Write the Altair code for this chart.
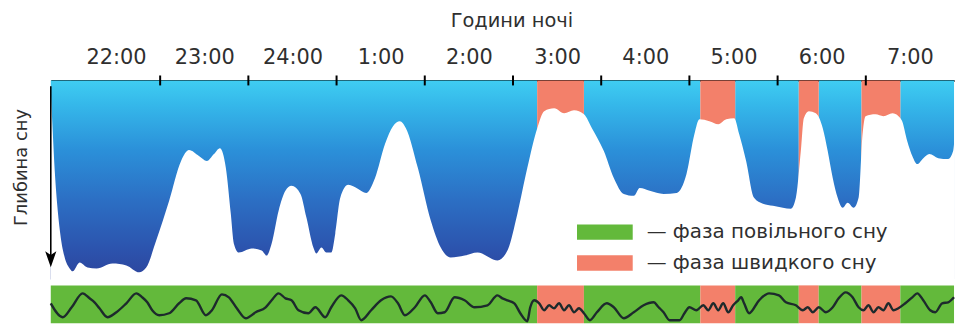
import altair as alt
import pandas as pd

FONT = "DejaVu Sans"
INK = "#2f2f2f"
SLOW = "фаза повільного сну"
REM = "фаза швидкого сну"
GREEN = "#63b93b"
SALMON = "#f3806a"

# hours counted from 22:00 (0 = start of the 22:00 hour)
hour_labels = ["22:00", "23:00", "24:00", "1:00", "2:00", "3:00", "4:00", "5:00", "6:00", "7:00"]
label_pos = [0.5, 1.5, 2.5, 3.5, 4.5, 5.5, 6.5, 7.5, 8.5, 9.5]
tick_pos = [1, 2, 3, 4, 5, 6, 7, 8, 9]

# sleep depth curve (0 = surface, 100 = deepest)
depth_h = [-0.24, -0.218, -0.195, -0.161, -0.127, -0.082, -0.026, 0.008, 0.087, 0.177,
           0.279, 0.459, 0.617, 0.763, 0.842, 0.955, 1.102, 1.237, 1.327, 1.44,
           1.53, 1.609, 1.677, 1.745, 1.801, 1.835, 1.891, 2.038, 2.151, 2.207,
           2.264, 2.343, 2.42, 2.489, 2.591, 2.659, 2.737, 2.771, 2.828, 2.884,
           2.94, 2.985, 3.042, 3.132, 3.245, 3.335, 3.436, 3.549, 3.64, 3.718,
           3.786, 3.922, 4.068, 4.181, 4.294, 4.452, 4.598, 4.824, 4.937, 5.05,
           5.162, 5.275, 5.354, 5.467, 5.58, 5.692, 5.805, 5.895, 6.03, 6.143,
           6.256, 6.369, 6.437, 6.55, 6.708, 6.855, 6.967, 7.057, 7.113, 7.226,
           7.328, 7.418, 7.508, 7.564, 7.643, 7.733, 7.834, 7.947, 8.06, 8.15,
           8.207, 8.263, 8.297, 8.354, 8.433, 8.512, 8.568, 8.625, 8.681, 8.738,
           8.794, 8.862, 8.918, 8.963, 8.997, 9.11, 9.2, 9.302, 9.37, 9.41,
           9.47, 9.527, 9.583, 9.652, 9.72, 9.821, 9.934, 9.99, 10.0]
depth_d = [5, 26.4, 47, 67.8, 81.7, 92.1, 97.8, 99.3, 94.7, 97.3,
           97.8, 95.2, 96.2, 99.8, 97.3, 83.3, 62.6, 41.9, 36.2, 39.3,
           41.9, 38.3, 35.2, 45.5, 69.3, 84.8, 89.5, 87.4, 88.5, 91.1,
           84.8, 67.8, 57.4, 54.8, 59, 71.4, 86.9, 90, 86.9, 89.5,
           89.5, 79.7, 61, 54.3, 56.4, 58.5, 50.7, 33.1, 23.8, 21.2,
           24.8, 45.5, 72.9, 86.9, 92.1, 91.1, 89.5, 93.6, 88.5, 69.3,
           45.5, 24.8, 16, 14.5, 17.1, 15.5, 17.6, 24.8, 36.7, 50.7,
           59, 60, 55.9, 57.4, 59, 58.5, 48.6, 27.9, 20.2, 21.2,
           22.8, 20.2, 19.7, 27.9, 41.9, 61, 64.1, 65.2, 66.2, 66.7,
           61, 36.7, 19.7, 16, 17.1, 24.8, 36.7, 50.7, 61, 66.2,
           63.6, 66.2, 61, 27.9, 18.6, 17.6, 18.6, 17.1, 18.6, 21,
           31.6, 39.3, 43.5, 40.4, 38.3, 40.4, 40.9, 36.7, 33]

# sleep phases
phase_start = [-0.24, 5.274, 5.804, 7.124, 7.519, 8.24, 8.466, 8.951, 9.391]
phase_end = [5.274, 5.804, 7.124, 7.519, 8.24, 8.466, 8.951, 9.391, 10.0]
phase_kind = [SLOW, REM, SLOW, REM, SLOW, REM, SLOW, REM, SLOW]

# EEG trace
eeg_h = [-0.24, -0.105, -0.003, 0.121, 0.2, 0.256, 0.312, 0.403, 0.504, 0.617,
         0.73, 0.797, 0.854, 0.91, 0.989, 1.102, 1.215, 1.294, 1.406, 1.519,
         1.587, 1.7, 1.779, 1.869, 1.971, 2.083, 2.196, 2.264, 2.342, 2.421,
         2.489, 2.568, 2.68, 2.759, 2.872, 2.94, 3.053, 3.132, 3.211, 3.279,
         3.392, 3.504, 3.617, 3.696, 3.775, 3.888, 4.0, 4.068, 4.147, 4.226,
         4.338, 4.451, 4.564, 4.711, 4.823, 4.88, 4.936, 5.015, 5.083, 5.162,
         5.196, 5.241, 5.297, 5.353, 5.41, 5.466, 5.522, 5.579, 5.635, 5.692,
         5.748, 5.804, 5.872, 5.951, 6.064, 6.143, 6.256, 6.369, 6.481, 6.594,
         6.651, 6.707, 6.775, 6.888, 6.944, 7.0, 7.079, 7.158, 7.214, 7.271,
         7.327, 7.383, 7.44, 7.496, 7.553, 7.587, 7.62, 7.677, 7.79, 7.903,
         8.015, 8.094, 8.207, 8.286, 8.342, 8.399, 8.467, 8.546, 8.625, 8.692,
         8.771, 8.85, 8.918, 8.974, 9.03, 9.087, 9.143, 9.2, 9.256, 9.313,
         9.369, 9.448, 9.527, 9.583, 9.651, 9.73, 9.787, 9.866, 9.934, 10.0]
eeg_v = [1, -13, -3, 11, 6, 2, -4, -13, -8, 1,
         11, 7, 2, -6, -11, -9, 1, 6, 4, -11,
         -6, 10, 7, -4, -14, -8, -3, 4, 11, 6,
         4, -6, -9, -3, -13, -3, 9, 4, -4, -16,
         -6, 4, 8, 1, -11, -3, 9, 2, -9, -8,
         7, 4, -3, -1, 9, 6, 4, 1, -9, -17,
         -3, 4, 1, -6, -1, -4, 1, -6, -1, -8,
         -4, -9, -16, -8, 1, -3, -14, -8, -1, 2,
         -3, -8, -16, -16, -9, -3, -6, -1, -6, 1,
         -6, 1, -8, -1, 4, 7, 1, -9, 4, 11,
         9, 2, -1, -6, -3, -8, -3, -8, -3, 6,
         12, 7, -3, -6, -1, -8, -3, -6, 1, -6,
         -4, 1, 7, 11, 4, -6, -8, 1, 2, 7]

# depth-axis arrow (depth units)
arrow_top = [3]
arrow_end = [92]
arrow_head = [93]

phases = pd.DataFrame({"start": phase_start, "end": phase_end, "phase": phase_kind})
depth = pd.DataFrame({"h": depth_h, "d": depth_d})
eeg = pd.DataFrame({"h": eeg_h, "v": eeg_v})
ticks_df = pd.DataFrame({"h": tick_pos})
arrow_df = pd.DataFrame({"top": arrow_top, "end": arrow_end, "head": arrow_head})

x_scale = alt.Scale(domain=[-0.24, 10.0], nice=False, zero=False)
y_scale = alt.Scale(domain=[0, 104], reverse=True, nice=False, zero=False)
color_scale = alt.Scale(domain=[SLOW, REM], range=[GREEN, SALMON])

label_expr = "[" + ",".join(f"'{s}'" for s in hour_labels) + "][floor(datum.value)]"

blue_fill = alt.LinearGradient(
    gradient="linear", x1=0, x2=0, y1=0, y2=1,
    stops=[
        alt.GradientStop(color="#3fcdf2", offset=0),
        alt.GradientStop(color="#35b8ea", offset=0.12),
        alt.GradientStop(color="#2b90d9", offset=0.35),
        alt.GradientStop(color="#2c6fc4", offset=0.6),
        alt.GradientStop(color="#2c53ad", offset=0.85),
        alt.GradientStop(color="#2d449c", offset=1.0),
    ],
)

top_axis = alt.Axis(
    orient="top", values=label_pos, labelExpr=label_expr, ticks=False, grid=False,
    domainColor="black", domainWidth=2,
    labelFont=FONT, labelFontSize=21, labelColor=INK, labelPadding=13,
    title="Години ночі", titleFont=FONT, titleFontSize=19.5, titleFontWeight="normal",
    titleColor=INK, titlePadding=16, titleX=463,
)
left_axis = alt.Axis(
    title="Глибина сну", domain=False, ticks=False, labels=False, grid=False,
    titleFont=FONT, titleFontSize=18, titleFontWeight="normal", titleColor=INK,
    titlePadding=20, titleY=87,
)


def tx(field):
    return alt.X(field, type="quantitative", scale=x_scale, axis=top_axis)


def ty(field):
    return alt.Y(field, type="quantitative", scale=y_scale, axis=left_axis)


blue = alt.Chart(phases).transform_filter(alt.datum.phase == SLOW).mark_rect(fill=blue_fill).encode(
    x=tx("start"),
    x2="end:Q",
    y=alt.value(0),
    y2=alt.value(200),
)

rem = alt.Chart(phases).transform_filter(alt.datum.phase == REM).mark_rect().encode(
    x=tx("start"),
    x2="end:Q",
    y=alt.value(0),
    y2=alt.value(200),
    color=alt.Color(
        "phase:N", scale=color_scale,
        legend=alt.Legend(
            title=None, orient="none", legendX=543, legendY=138.5, direction="vertical",
            symbolType="M-2,-0.55L2,-0.55L2,0.55L-2,0.55Z", symbolSize=784,
            symbolStrokeWidth=0, symbolOpacity=1,
            labelFont=FONT, labelFontSize=20, labelColor=INK, labelOffset=28,
            labelLimit=500, rowPadding=7, labelExpr="'— ' + datum.label",
        ),
    ),
)

white = alt.Chart(depth).mark_area(color="white", opacity=1, interpolate="monotone").encode(
    x=tx("h"),
    y=ty("d"),
    y2=alt.datum(104),
)

ticks = alt.Chart(ticks_df).mark_tick(color="black", thickness=2, size=10, opacity=1).encode(
    x=tx("h"),
    y=alt.value(0),
)

shaft = alt.Chart(arrow_df).mark_rule(color="black", strokeWidth=1.6).encode(
    x=alt.value(0),
    y=ty("top"),
    y2="end:Q",
)

head = alt.Chart(arrow_df).mark_point(
    shape="M-0.7,-1L0,-0.55L0.7,-1L0,1Z", size=256, filled=True, color="black", opacity=1
).encode(
    x=alt.value(0),
    y=ty("head"),
)

top = alt.layer(blue, rem, white, ticks, shaft, head).properties(width=908, height=201)

strip = alt.Chart(phases).mark_rect().encode(
    x=alt.X("start:Q", scale=x_scale, axis=None),
    x2="end:Q",
    color=alt.Color("phase:N", scale=color_scale, legend=None),
)

wave = alt.Chart(eeg).mark_line(color="#1d2a2c", strokeWidth=2.4, interpolate="monotone").encode(
    x=alt.X("h:Q", scale=x_scale, axis=None),
    y=alt.Y("v:Q", scale=alt.Scale(domain=[-19, 19], nice=False, zero=False), axis=None),
)

bottom = alt.layer(strip, wave).properties(width=908, height=38)

chart = (
    alt.vconcat(top, bottom, spacing=5)
    .resolve_scale(color="independent")
    .resolve_legend(color="independent")
    .properties(padding={"left": 5, "top": 2, "right": 0, "bottom": 0})
    .configure(font=FONT)
    .configure_view(stroke=None)
)

chart.save("out.html", embed_options={"renderer": "svg", "actions": False})
